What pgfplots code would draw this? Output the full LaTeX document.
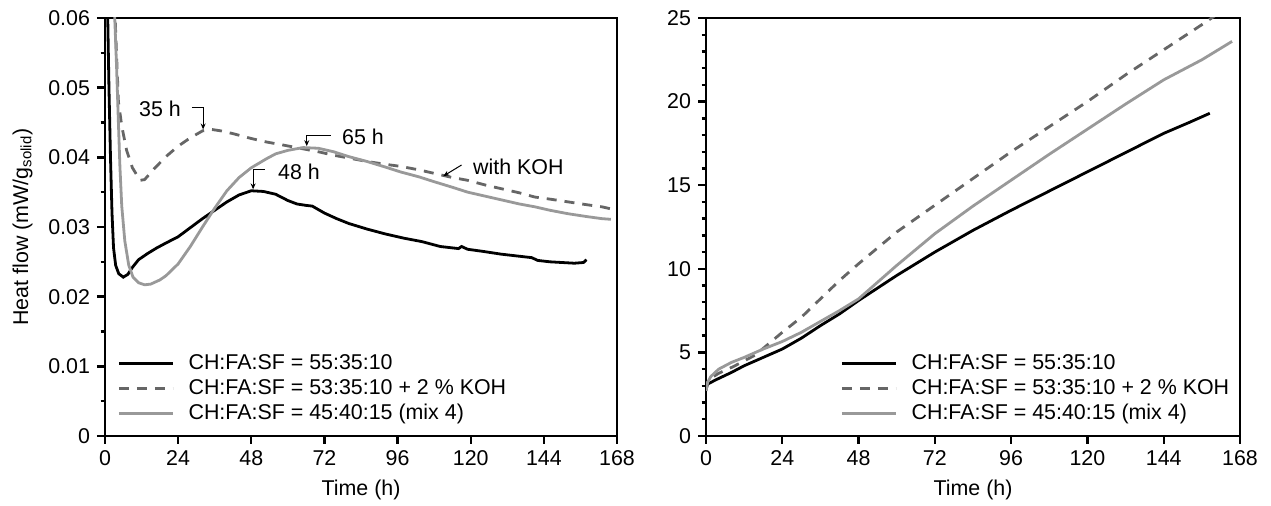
\documentclass[border=0pt]{standalone}
\usepackage{fontspec}
\setmainfont{Liberation Sans}
\usepackage{pgfplots}
\pgfplotsset{compat=1.18}
\usetikzlibrary{arrows.meta}

\definecolor{kohgray}{gray}{0.40}
\definecolor{mixgray}{gray}{0.60}

\newcommand\chartfont{\fontsize{10.7}{12.5}\selectfont}

\tikzset{
  annot/.style={black, line width=0.5pt, -{Stealth[length=3pt,width=2.5pt]}},
  lbl/.style={font=\chartfont},
}

\pgfplotsset{
  heatax/.style={
    scale only axis, width=256pt, height=209pt,
    xmin=0, xmax=168, xtick={0,24,...,168},
    axis line style={line width=1.3pt},
    every tick/.style={black, line width=1.2pt},
    tick align=outside, major tick length=4pt, minor tick length=2.2pt,
    xtick pos=bottom, ytick pos=left,
    tick label style={font=\chartfont},
    label style={font=\chartfont},
    /pgf/number format/assume math mode=true,
    scaled y ticks=false,
    xlabel={Time (h)},
    legend cell align=left,
    legend image code/.code={\draw[##1] (0pt,0pt) -- (27pt,0pt);},
    legend style={draw=none, fill=none, anchor=south west, inner sep=0pt,
      row sep=0.6pt, font=\chartfont,
      nodes={inner sep=1.2pt, text height=7.5pt, text depth=2pt},
      /tikz/every odd column/.style={column sep=6pt}},
  },
  blk/.style={black, line width=1.4pt},
  koh/.style={kohgray, line width=1.4pt, dash pattern=on 5pt off 4pt},
  mix/.style={mixgray, line width=1.4pt},
}

\begin{document}
\begin{tikzpicture}
\path[use as bounding box] (-52.5pt,-35pt) rectangle (583pt,218pt);

\begin{axis}[heatax,
  ymin=0, ymax=0.06, ytick={0,0.01,...,0.06},
  yticklabels={0,0.01,0.02,0.03,0.04,0.05,0.06},
  minor y tick num=1,
  ylabel={Heat flow (mW/g\textsubscript{solid})},
  ylabel shift=1pt,
  legend style={at={(0,0)}, xshift=6pt, yshift=5pt},
]
\addplot[blk] coordinates {
(0.5,0.08) (0.9,0.06) (1.3,0.05) (1.8,0.04) (2.3,0.032) (2.8,0.027)
(3.5,0.0245) (4.5,0.0233) (6,0.0228) (7.5,0.0232) (9,0.0242) (11,0.0253)
(14,0.0262) (17,0.0270) (20,0.0277) (24,0.0286) (28,0.0299) (32,0.0312)
(36,0.0324) (40,0.0336) (44,0.0346) (48,0.0352) (52,0.0351) (56,0.0347)
(60,0.0338) (63,0.0333) (66,0.0331) (68,0.0330) (72,0.0320) (76,0.0312)
(80,0.0305) (86,0.0297) (92,0.0290) (98,0.0284) (104,0.0279) (110,0.0272)
(114,0.0270) (116,0.0269) (117,0.0272) (119,0.0268) (124,0.0265) (130,0.0261)
(136,0.0258) (140,0.0256) (142,0.0252) (146,0.0250) (150,0.0249) (154,0.0248)
(157,0.0249) (158,0.0253)};
\addplot[koh] coordinates {
(2.5,0.08) (3.0,0.065) (3.5,0.058) (4.4,0.048) (5.5,0.0445) (7.1,0.041)
(9,0.0385) (11.5,0.0367) (13,0.0368) (16,0.0383) (20,0.0401) (24,0.0416)
(28,0.0428) (32,0.0438) (35,0.0440) (38,0.0438) (42,0.0434) (48,0.0427)
(53,0.0422) (58,0.0418) (64,0.0413) (70,0.0408) (75,0.0403) (80,0.0399)
(86,0.0394) (92,0.0390) (97,0.0387) (103,0.0382) (108,0.0377) (114,0.0371)
(119,0.0367) (125,0.0360) (130,0.0355) (136,0.0349) (141,0.0343) (146,0.0340)
(152,0.0336) (158,0.0332) (163,0.0329) (166,0.0326)};
\addplot[mix] coordinates {
(2.5,0.08) (3.2,0.06) (3.8,0.053) (4.4,0.045) (4.9,0.0386) (5.5,0.033)
(6.5,0.028) (7.8,0.0245) (9.2,0.0228) (11,0.022) (13,0.0217) (15,0.0218)
(18,0.0224) (20,0.0230) (24,0.0247) (28,0.0272) (32,0.0300) (36,0.0327)
(40,0.0352) (44,0.0371) (48,0.0385) (53,0.0398) (56,0.0405) (60,0.0410)
(65,0.0414) (70,0.0413) (75,0.0408) (80,0.0401) (86,0.0394) (92,0.0386)
(97,0.0379) (103,0.0372) (108,0.0365) (114,0.0357) (119,0.0350) (125,0.0344)
(130,0.0339) (136,0.0333) (141,0.0329) (146,0.0324) (152,0.0319) (158,0.0315)
(163,0.0312) (166,0.0311)};
\legend{CH:FA:SF = 55:35:10, CH:FA:SF = 53:35:10 + 2 \% KOH, CH:FA:SF = 45:40:15 (mix 4)}

\draw[annot] (axis cs:28.5,0.0472) -- (axis cs:32.2,0.0472) -- (axis cs:32.2,0.0440);
\node[lbl, anchor=east] at (axis cs:27.2,0.0469) {35 h};
\draw[annot] (axis cs:74,0.0432) -- (axis cs:66.2,0.0432) -- (axis cs:66.2,0.0416);
\node[lbl, anchor=west] at (axis cs:75.5,0.0429) {65 h};
\draw[annot] (axis cs:52.5,0.0383) -- (axis cs:48.6,0.0383) -- (axis cs:48.6,0.0354);
\node[lbl, anchor=west] at (axis cs:54.5,0.0379) {48 h};
\draw[annot] (axis cs:117,0.0389) -- (axis cs:111,0.0373);
\node[lbl, anchor=west] at (axis cs:118.5,0.0387) {with KOH};
\end{axis}

\begin{axis}[heatax, at={(300.5pt,0pt)}, width=267pt,
  ymin=0, ymax=25, ytick={0,5,...,25}, minor y tick num=4,
  legend style={at={(0,0)}, xshift=67pt, yshift=5pt},
]
\addplot[blk] coordinates {
(0,2.8) (0.5,3.1) (3,3.35) (8,3.8) (12,4.2) (18,4.7) (24,5.2) (30,5.85)
(36,6.6) (42,7.3) (48,8.1) (54,8.85) (60,9.6) (66,10.3) (72,11.0) (84,12.3)
(96,13.5) (108,14.65) (120,15.8) (132,16.95) (144,18.1) (152,18.75) (158.5,19.3)};
\addplot[koh] coordinates {
(0,2.7) (0.6,3.35) (4,3.75) (8.6,4.15) (15.5,4.84) (24,6.2) (30,7.1) (36,8.2)
(42,9.3) (48,10.3) (60,12.2) (72,13.8) (84,15.4) (96,17.0) (108,18.5)
(120,20.0) (132,21.6) (144,23.1) (156,24.6) (166,25.9)};
\addplot[mix] coordinates {
(0,2.7) (0.5,3.2) (1.5,3.55) (4,4.0) (8,4.4) (12,4.7) (18,5.2) (24,5.65)
(30,6.2) (36,6.85) (42,7.5) (48,8.2) (60,10.2) (72,12.1) (84,13.75) (96,15.3)
(108,16.85) (120,18.35) (132,19.85) (144,21.3) (156,22.5) (165.5,23.6)};
\legend{CH:FA:SF = 55:35:10, CH:FA:SF = 53:35:10 + 2 \% KOH, CH:FA:SF = 45:40:15 (mix 4)}
\end{axis}
\end{tikzpicture}
\end{document}
